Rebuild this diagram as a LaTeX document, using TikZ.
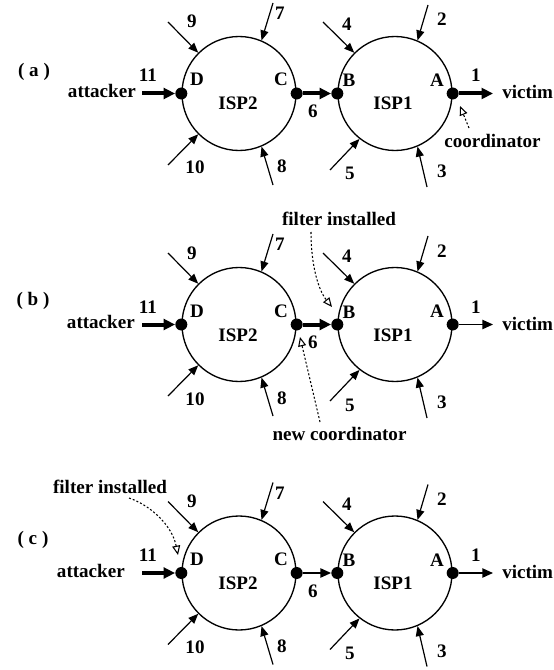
\documentclass[tikz,border=0pt]{standalone}
\usepackage{fontspec}
\setmainfont{Liberation Serif}
\usetikzlibrary{arrows.meta}

\tikzset{
  isp/.style={circle, draw, line width=1pt, minimum size=85.5pt, inner sep=0pt},
  dot/.style={circle, fill, minimum size=9pt, inner sep=0pt},
  lbl/.style={anchor=base, inner sep=0pt, font=\fontsize{14.3}{17}\selectfont\bfseries},
  feed/.style={line width=0.9pt, -{Triangle[length=7.5pt,width=6pt]}},
  heavy/.style={line width=3pt, -{Triangle[length=8.5pt,width=8pt]}},
  light/.style={line width=1pt, -{Triangle[length=8pt,width=7pt]}},
  note/.style={line width=0.8pt, dash pattern=on 1.5pt off 1.5pt,
    -{Triangle[open,length=7pt,width=6pt,line width=0.8pt]}},
}

% The two ISP rings with their border routers and incoming links
\newcommand\ispnet{%
  \node[isp] (isp2) at (239,0) {};
  \node[isp] (isp1) at (395,0) {};
  \node[lbl] (isp2lbl) at (238,16.5) {ISP2};
  \node[lbl] (isp1lbl) at (393,16.5) {ISP1};
  \node[dot] (D) at (isp2.west) {};
  \node[dot] (C) at (isp2.east) {};
  \node[dot] (B) at (isp1.west) {};
  \node[dot] (A) at (isp1.east) {};
  \node[lbl] (Dl) at (197,-7.5) {D};
  \node[lbl] (Cl) at (281,-7.5) {C};
  \node[lbl] (Bl) at (349,-6.5) {B};
  \node[lbl] (Al) at (437,-7) {A};
  % incoming links of ISP2
  \coordinate (s9) at (168,-71.5);
  \coordinate (s7) at (273,-90.5);
  \coordinate (s10) at (168,71.5);
  \coordinate (s8) at (273,91.5);
  \draw[feed] (s9) -- (isp2.135);
  \draw[feed] (s7) -- (isp2.67);
  \draw[feed] (s10) -- (isp2.225);
  \draw[feed] (s8) -- (isp2.293);
  % incoming links of ISP1
  \coordinate (s4) at (323,-71.5);
  \coordinate (s2) at (428,-88.5);
  \coordinate (s5) at (330,76.5);
  \coordinate (s3) at (427,93.5);
  \draw[feed] (s4) -- (isp1.135);
  \draw[feed] (s2) -- (isp1.67);
  \draw[feed] (s5) -- (isp1.232);
  \draw[feed] (s3) -- (isp1.293);
  % link numbers
  \node[lbl] (n9) at (192,-65.5) {9};
  \node[lbl] (n7) at (280,-74) {7};
  \node[lbl] (n10) at (195,80.5) {10};
  \node[lbl] (n8) at (282,79.5) {8};
  \node[lbl] (n4) at (347,-62.5) {4};
  \node[lbl] (n2) at (442,-67.5) {2};
  \node[lbl] (n5) at (350,86.5) {5};
  \node[lbl] (n3) at (442,84) {3};
  \node[lbl] (n6) at (313,24) {6};
  \node[lbl] (n1) at (476,-11.5) {1};
  \node[lbl] (n11) at (148,-11.5) {11};
  \coordinate (atts) at (142,0);
  \coordinate (vend) at (493,0);
  \node[lbl, anchor=base west] (vic) at (502,5.5) {victim};
}

\begin{document}
\begin{tikzpicture}[x=0.75pt, y=-0.75pt]
  \useasboundingbox (0,0) rectangle (553,670);

  % (a) attack traffic reaches the victim, coordinator at A
  \begin{scope}[shift={(0,93.5)}, name prefix=a-]
    \ispnet
    \node[lbl] (tag) at (34,-16.5) {( a )};
    \node[lbl, anchor=base east] (att) at (136,4) {attacker};
    \draw[heavy] (atts) -- (D);
    \draw[heavy] (C) -- (B);
    \draw[heavy] (A) -- (vend);
    \node[lbl] (coord) at (492.5,54.5) {coordinator};
    \coordinate (cs) at (469,34.5);
    \coordinate (ct) at (460,12.5);
    \draw[note] (cs) -- (ct);
  \end{scope}

  % (b) filter at B, coordination moves upstream to C
  \begin{scope}[shift={(0,324.5)}, name prefix=b-]
    \ispnet
    \node[lbl] (tag) at (33,-19.5) {( b )};
    \node[lbl, anchor=base east] (att) at (135,3.5) {attacker};
    \draw[heavy] (atts) -- (D);
    \draw[heavy] (C) -- (B);
    \draw[light] (A) -- (vend);
    \node[lbl] (filt) at (339,-99.5) {filter installed};
    \coordinate (fs) at (311,-92.5);
    \coordinate (ft) at (332,-17.5);
    \draw[note] (fs) .. controls (311,-60) and (318,-35) .. (ft);
    \node[lbl] (ncoord) at (339.5,115.5) {new coordinator};
    \coordinate (ns) at (320,97.5);
    \coordinate (nt) at (300,12.5);
    \draw[note] (ns) -- (nt);
  \end{scope}

  % (c) filter moved to D, attack stopped at the entry point
  \begin{scope}[shift={(0,573)}, name prefix=c-]
    \ispnet
    \node[lbl] (tag) at (33,-29) {( c )};
    \node[lbl, anchor=base east] (att) at (125,4) {attacker};
    \draw[heavy] (atts) -- (D);
    \draw[light] (C) -- (B);
    \draw[light] (A) -- (vend);
    \node[lbl] (filt) at (110,-80) {filter installed};
    \coordinate (fs) at (129,-75);
    \coordinate (ft) at (178,-18);
    \draw[note] (fs) .. controls (150,-68) and (172,-48) .. (ft);
  \end{scope}
\end{tikzpicture}
\end{document}
